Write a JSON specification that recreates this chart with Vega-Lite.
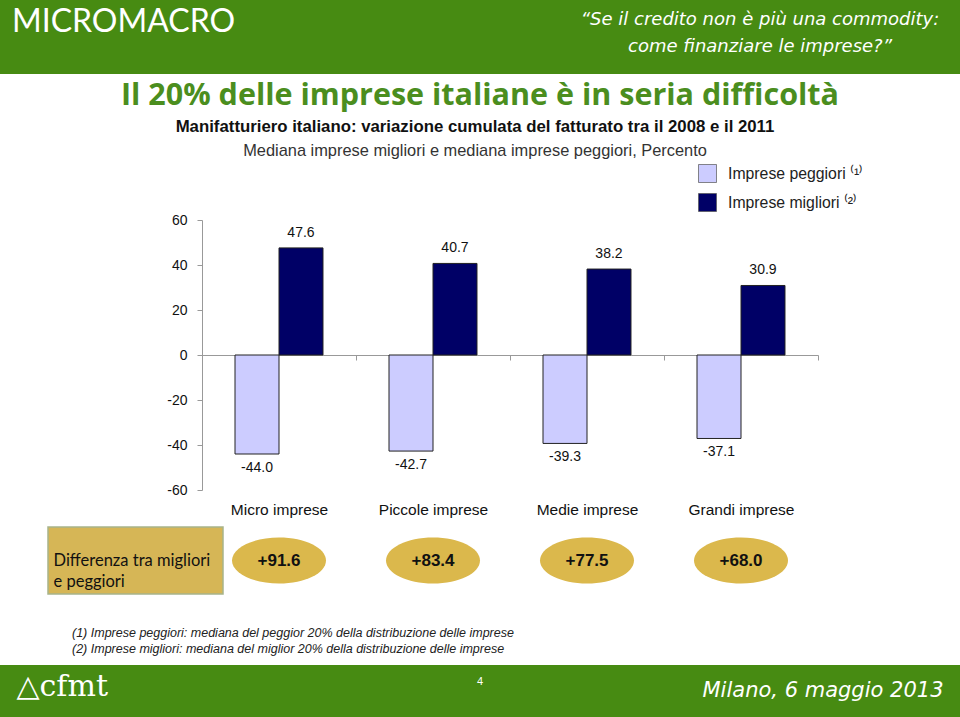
{
  "$schema": "https://vega.github.io/schema/vega-lite/v6.json",
  "padding": 0,
  "background": "white",
  "bounds": "flush",
  "spacing": 0,
  "config": {
    "view": {"stroke": null},
    "font": "Liberation Sans",
    "title": {"font": "Liberation Sans", "subtitleFont": "Liberation Sans"},
    "locale": {"number": {"decimal": ".", "thousands": ",", "grouping": [3], "currency": ["", ""], "minus": "-"}}
  },
  "vconcat": [
    {
      "width": 960,
      "height": 74,
      "view": {"fill": "#478b12", "stroke": null},
      "title": {
        "text": "Il 20% delle imprese italiane è in seria difficoltà",
        "orient": "bottom", "anchor": "middle", "frame": "group", "offset": 7,
        "font": "Open Sans", "fontSize": 30.5, "fontWeight": "bold", "color": "#4b8e1e"
      },
      "data": {"values": [
        {"slot": "left", "testo": "MICROMACRO"},
        {"slot": "quote", "testo": "“Se il credito non è più una commodity:\ncome finanziare le imprese?”"}
      ]},
      "encoding": {
        "x": {"field": "slot", "type": "nominal", "scale": {"type": "point", "domain": ["left", "quote"], "padding": 0.1417, "align": 0.0566}, "axis": null},
        "text": {"field": "testo"}
      },
      "layer": [
        {"transform": [{"filter": "datum.slot === 'left'"}],
         "mark": {"type": "text", "align": "left", "dy": -15, "font": "Lato", "fontSize": 32, "color": "white"}},
        {"transform": [{"filter": "datum.slot === 'quote'"}],
         "mark": {"type": "text", "align": "center", "dy": -17, "lineBreak": "\n", "lineHeight": 27, "font": "DejaVu Sans", "fontStyle": "italic", "fontSize": 18, "color": "white"}}
      ]
    },
    {"width": 960, "height": 146, "data": {"values": []}, "mark": "point"},
    {
      "width": 818,
      "height": 270,
      "title": {
        "text": "Manifatturiero italiano: variazione cumulata del fatturato tra il 2008 e il 2011",
        "subtitle": "Mediana imprese migliori e mediana imprese peggiori, Percento",
        "anchor": "middle", "frame": "group", "dx": 66, "offset": 54,
        "fontSize": 16.8, "fontWeight": "bold", "color": "#111",
        "subtitleFontSize": 16.4, "subtitleColor": "#333", "subtitlePadding": 7
      },
      "data": {"values": [
        {"categoria": "Micro imprese", "serie": "Imprese peggiori", "valore": -44.0},
        {"categoria": "Micro imprese", "serie": "Imprese migliori", "valore": 47.6},
        {"categoria": "Piccole imprese", "serie": "Imprese peggiori", "valore": -42.7},
        {"categoria": "Piccole imprese", "serie": "Imprese migliori", "valore": 40.7},
        {"categoria": "Medie imprese", "serie": "Imprese peggiori", "valore": -39.3},
        {"categoria": "Medie imprese", "serie": "Imprese migliori", "valore": 38.2},
        {"categoria": "Grandi imprese", "serie": "Imprese peggiori", "valore": -37.1},
        {"categoria": "Grandi imprese", "serie": "Imprese migliori", "valore": 30.9}
      ]},
      "encoding": {
        "x": {
          "field": "categoria", "type": "nominal",
          "sort": ["Micro imprese", "Piccole imprese", "Medie imprese", "Grandi imprese"],
          "scale": {"rangeMin": 202, "rangeMax": 818, "paddingInner": 0.4286, "paddingOuter": 0.2143},
          "axis": {
            "title": null, "orient": "bottom", "offset": -135,
            "domain": true, "domainColor": "#999", "domainWidth": 1,
            "ticks": true, "tickColor": "#999", "tickSize": 5, "bandPosition": 1, "tickOffset": 33,
            "labelOffset": -33, "labelPadding": 142, "labelAngle": 0,
            "labelFontSize": 15.5, "labelColor": "#111"
          }
        },
        "xOffset": {
          "field": "serie", "type": "nominal",
          "sort": ["Imprese peggiori", "Imprese migliori"],
          "scale": {"paddingInner": 0, "paddingOuter": 0}
        },
        "y": {
          "field": "valore", "type": "quantitative",
          "scale": {"domain": [-60, 60], "nice": false},
          "axis": {
            "title": null, "offset": -202, "values": [-60, -40, -20, 0, 20, 40, 60],
            "grid": false, "domainColor": "#999", "tickColor": "#999", "tickSize": 5,
            "labelPadding": 10, "labelFontSize": 14, "labelColor": "#111"
          }
        }
      },
      "layer": [
        {
          "mark": {"type": "bar", "stroke": "#222", "strokeWidth": 1},
          "encoding": {
            "color": {
              "field": "serie", "type": "nominal",
              "scale": {"domain": ["Imprese peggiori", "Imprese migliori"], "range": ["#ccccff", "#000066"]},
              "legend": {
                "title": null, "orient": "none", "legendX": 698, "legendY": 164, "padding": 0,
                "symbolType": "square", "symbolSize": 324, "symbolStrokeColor": "#555", "symbolStrokeWidth": 0.7,
                "labelFontSize": 15.8, "labelColor": "#222", "labelOffset": 11, "rowPadding": 8,
                "labelExpr": "datum.label + (datum.label == 'Imprese peggiori' ? ' ⁽¹⁾' : ' ⁽²⁾')"
              }
            }
          }
        },
        {
          "transform": [{"filter": "datum.valore > 0"}],
          "mark": {"type": "text", "baseline": "bottom", "dy": -8, "fontSize": 14, "color": "#111"},
          "encoding": {"text": {"field": "valore", "type": "quantitative", "format": ".1f"}}
        },
        {
          "transform": [{"filter": "datum.valore < 0"}],
          "mark": {"type": "text", "baseline": "top", "dy": 7, "fontSize": 14, "color": "#111"},
          "encoding": {"text": {"field": "valore", "type": "quantitative", "format": ".1f"}}
        }
      ]
    },
    {"width": 960, "height": 37, "data": {"values": []}, "mark": "point"},
    {
      "width": 818,
      "height": 67,
      "layer": [
        {
          "data": {"values": [{"etichetta": "Differenza tra migliori\ne peggiori"}]},
          "encoding": {
            "x": {"field": "etichetta", "type": "nominal", "scale": {"rangeMin": 48, "rangeMax": 223, "paddingInner": 0, "paddingOuter": 0}, "axis": null}
          },
          "layer": [
            {"mark": {"type": "bar", "color": "#d6b656", "stroke": "#a8b48a", "strokeWidth": 1.5}},
            {"mark": {"type": "text", "align": "left", "dx": -82, "lineBreak": "\n", "lineHeight": 21, "font": "Lato", "fontSize": 16.5, "color": "#111"},
             "encoding": {"text": {"field": "etichetta"}}}
          ]
        },
        {
          "data": {"values": [
            {"categoria": "Micro imprese", "differenza": 91.6},
            {"categoria": "Piccole imprese", "differenza": 83.4},
            {"categoria": "Medie imprese", "differenza": 77.5},
            {"categoria": "Grandi imprese", "differenza": 68.0}
          ]},
          "encoding": {
            "x": {
              "field": "categoria", "type": "nominal",
              "sort": ["Micro imprese", "Piccole imprese", "Medie imprese", "Grandi imprese"],
              "scale": {"rangeMin": 202, "rangeMax": 818, "paddingInner": 0.4286, "paddingOuter": 0.2143},
              "axis": null
            }
          },
          "layer": [
            {"mark": {"type": "point", "shape": "M-1,0A1,0.49,0,1,1,1,0A1,0.49,0,1,1,-1,0Z", "size": 8836, "filled": true, "color": "#dbb84c", "opacity": 1}},
            {"mark": {"type": "text", "fontSize": 17, "fontWeight": "bold", "color": "#111"},
             "encoding": {"text": {"field": "differenza", "type": "quantitative", "format": "+.1f"}}}
          ]
        }
      ],
      "resolve": {"scale": {"x": "independent"}}
    },
    {"width": 960, "height": 71, "data": {"values": []}, "mark": "point"},
    {
      "width": 960,
      "height": 52,
      "view": {"fill": "#478b12", "stroke": null},
      "title": {
        "text": [
          "(1) Imprese peggiori: mediana del peggior 20% della distribuzione delle imprese",
          "(2) Imprese migliori: mediana del miglior 20% della distribuzione delle imprese"
        ],
        "orient": "top", "anchor": "start", "frame": "group", "dx": 72, "offset": 10,
        "fontSize": 12.5, "fontStyle": "italic", "fontWeight": "normal", "color": "#222", "lineHeight": 16
      },
      "data": {"values": [
        {"slot": "logo", "testo": "△cfmt"},
        {"slot": "pagina", "testo": "4"},
        {"slot": "data", "testo": "Milano, 6 maggio 2013"}
      ]},
      "encoding": {
        "x": {"field": "slot", "type": "nominal", "scale": {"type": "point", "domain": ["logo", "pagina", "data"], "padding": 0.0356, "align": 0.5}, "axis": null},
        "text": {"field": "testo"}
      },
      "layer": [
        {"transform": [{"filter": "datum.slot === 'logo'"}],
         "mark": {"type": "text", "align": "left", "dy": -4, "font": "DejaVu Serif", "fontSize": 30, "color": "white"}},
        {"transform": [{"filter": "datum.slot === 'pagina'"}],
         "mark": {"type": "text", "align": "center", "dy": -9, "fontSize": 11, "color": "white"}},
        {"transform": [{"filter": "datum.slot === 'data'"}],
         "mark": {"type": "text", "align": "right", "font": "DejaVu Sans", "fontStyle": "italic", "fontSize": 21, "color": "white"}}
      ]
    }
  ]
}
